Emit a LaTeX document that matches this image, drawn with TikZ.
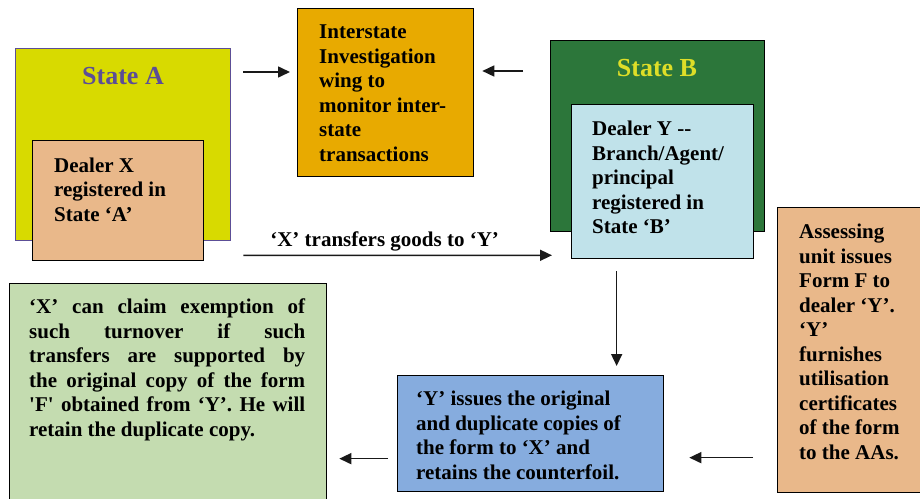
\documentclass[tikz,border=0pt]{standalone}
\usepackage{fontspec}
\setmainfont{Liberation Serif}[Ligatures=TeXOff]
\usetikzlibrary{arrows.meta}

\definecolor{stateyellow}{RGB}{216,218,0}
\definecolor{statepurple}{RGB}{92,78,150}
\definecolor{dealertan}{RGB}{233,184,138}
\definecolor{wingorange}{RGB}{232,170,0}
\definecolor{stategreen}{RGB}{44,118,58}
\definecolor{titleyellow}{RGB}{222,222,40}
\definecolor{dealerblue}{RGB}{192,226,234}
\definecolor{formblue}{RGB}{134,172,222}
\definecolor{claimgreen}{RGB}{196,220,176}

\tikzset{
  box/.style={draw=black, line width=1.3bp, anchor=north west, inner sep=0pt},
  txt/.style={anchor=north west, inner sep=0pt, align=left,
    font=\bfseries\fontsize{21bp}{24.5bp}\selectfont},
  title/.style={anchor=base, inner sep=0pt, font=\bfseries\fontsize{26bp}{30bp}\selectfont},
  arr/.style={-{Triangle[length=12bp,width=11bp]}, line width=1.6bp, draw=black!90}
}

\begin{document}
\begin{tikzpicture}[x=1bp,y=-1bp]
      \useasboundingbox (0,0) rectangle (920,499);
      \clip (0,0) rectangle (920,499);
      % state A
      \node[box, draw=statepurple, fill=stateyellow, minimum width=215bp, minimum height=192bp] (A) at (15,48) {};
      \node[title, text=statepurple] (Atitle) at (123,85) {State A};
      \node[box, fill=dealertan, minimum width=171bp, minimum height=120bp] (X) at (32,140) {};
      \node[txt] (Xtxt) at (54,157.7) {Dealer X\\registered in\\State ‘A’};
      % investigation wing
      \node[box, fill=wingorange, minimum width=176bp, minimum height=168bp] (I) at (297,8) {};
      \node[txt] (Itxt) at (319,25) {Interstate\\Investigation\\wing to\\monitor inter-\\state\\transactions};
      % state B
      \node[box, fill=stategreen, minimum width=214bp, minimum height=191bp] (B) at (550,40) {};
      \node[title, text=titleyellow] (Btitle) at (657,77) {State B};
      \node[box, fill=dealerblue, minimum width=182bp, minimum height=154bp] (Y) at (571,104) {};
      \node[txt] (Ytxt) at (592,121) {Dealer Y --\\Branch/Agent/\\principal\\registered in\\State ‘B’};
      % assessing unit
      \node[box, fill=dealertan, minimum width=150bp, minimum height=285bp] (AU) at (777,207) {};
      \node[txt] (AUtxt) at (799,224) {Assessing\\unit issues\\Form F to\\dealer ‘Y’.\\‘Y’\\furnishes\\utilisation\\certificates\\of the form\\to the AAs.};
      % form F
      \node[box, fill=formblue, minimum width=266bp, minimum height=116bp] (F) at (397,375) {};
      \node[txt] (Ftxt) at (416,391) {‘Y’ issues the original\\and duplicate copies of\\the form to ‘X’ and\\retains the counterfoil.};
      % exemption
      \node[box, fill=claimgreen, minimum width=317bp, minimum height=220bp] (G) at (9,283) {};
      \node[txt, align=justify, text width=276bp] (Gtxt) at (29,299) {‘X’ can claim exemption of\linebreak
        such turnover if such\linebreak
        transfers are supported by\linebreak
        the original copy of the form\linebreak
        'F' obtained from ‘Y’. He will\linebreak
        retain the duplicate copy.};
      % connectors
      \draw[arr, shorten <=12bp, shorten >=7bp] ([yshift=-24bp]A.north east) -- ([yshift=-24bp]A.north east -| I.west);
      \draw[arr, shorten <=27bp, shorten >=8bp] ([yshift=-31bp]B.north west) -- ([yshift=-31bp]B.north west -| I.east);
      \draw[arr, shorten <=39bp, shorten >=19bp] ([yshift=6bp]X.south east) --
        node[anchor=base, yshift=9bp, xshift=-3bp, inner sep=0pt, font=\bfseries\fontsize{21bp}{24.5bp}\selectfont]{‘X’ transfers goods to ‘Y’}
        ([yshift=4bp]Y.south west);
      \draw[arr, shorten <=12bp, shorten >=9bp] ([xshift=-46bp]Y.south) -- ([xshift=-46bp]Y.south |- F.north);
      \draw[arr, shorten <=9bp, shorten >=12bp] ([yshift=-25bp]F.west) -- ([yshift=-25bp]F.west -| G.east);
      \draw[arr, shorten <=24bp, shorten >=25bp] ([yshift=-24bp]F.east -| AU.west) -- ([yshift=-24bp]F.east);
    \end{tikzpicture}
\end{document}
